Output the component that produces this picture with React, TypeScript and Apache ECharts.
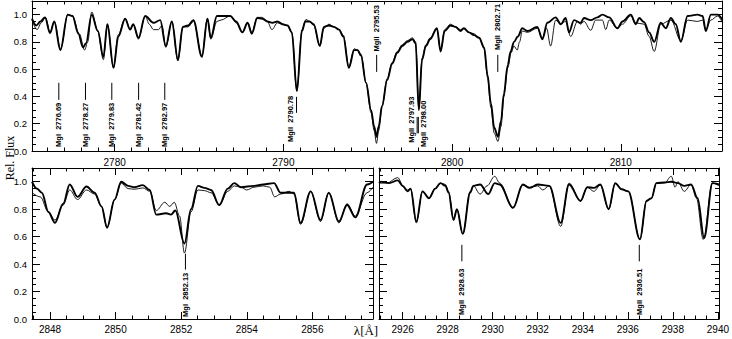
import React, { useEffect, useRef } from "react";
import * as echarts from "echarts";

// ---------- Top panel (2775 - 2816 Å) ----------
const TOP_THICK_WAVE = [2775.1, 2775.35, 2775.6, 2775.87, 2776.17, 2776.42, 2776.78, 2777.22, 2777.5, 2777.85, 2778.12, 2778.3, 2778.64, 2779.0, 2779.33, 2779.57, 2779.93, 2780.22, 2780.62, 2780.92, 2781.1, 2781.41, 2781.81, 2782.3, 2782.7, 2783.03, 2783.39, 2783.75, 2784.04, 2784.35, 2784.67, 2785.17, 2785.5, 2785.7, 2786.06, 2786.85, 2787.2, 2787.57, 2787.88, 2788.13, 2788.45, 2788.75, 2789.05, 2789.35, 2789.65, 2789.95, 2790.25, 2790.5, 2790.8, 2791.1, 2791.3, 2791.55, 2791.8, 2792.16, 2792.4, 2792.7, 2793.0, 2793.3, 2793.55, 2793.88, 2794.2, 2794.4, 2794.6, 2794.9, 2795.2, 2795.38, 2795.52, 2795.65, 2795.85, 2796.15, 2796.45, 2796.75, 2797.05, 2797.35, 2797.65, 2797.84, 2798.03, 2798.22, 2798.45, 2798.7, 2799.1, 2799.32, 2799.56, 2799.91, 2800.2, 2800.5, 2800.7, 2801.0, 2801.3, 2801.6, 2801.9, 2802.1, 2802.3, 2802.5, 2802.72, 2802.9, 2803.07, 2803.3, 2803.47, 2803.67, 2803.9, 2804.16, 2804.46, 2805.05, 2805.35, 2805.65, 2806.14, 2806.44, 2806.73, 2806.93, 2807.23, 2807.62, 2807.82, 2808.22, 2808.61, 2808.91, 2809.31, 2809.8, 2810.1, 2810.59, 2810.89, 2811.09, 2811.38, 2811.68, 2811.98, 2812.37, 2812.67, 2812.97, 2813.26, 2813.56, 2813.96, 2814.55, 2814.85, 2815.04, 2815.34, 2815.74, 2816.03];
const TOP_THICK_FLUX = [0.97, 0.92, 0.95, 0.98, 0.865, 0.95, 0.74, 1.0, 0.99, 0.86, 0.76, 0.79, 1.0, 0.88, 0.69, 0.93, 0.61, 0.84, 0.97, 0.89, 0.93, 0.83, 0.99, 0.94, 0.96, 0.77, 0.95, 0.67, 0.91, 0.92, 0.96, 0.69, 0.97, 0.83, 0.99, 0.99, 0.95, 0.87, 0.94, 0.86, 0.975, 0.97, 0.95, 0.94, 0.95, 0.93, 0.92, 0.87, 0.44, 0.88, 0.95, 0.95, 0.93, 0.77, 0.91, 0.92, 0.91, 0.89, 0.84, 0.61, 0.74, 0.74, 0.7, 0.5, 0.3, 0.18, 0.105, 0.18, 0.33, 0.52, 0.64, 0.72, 0.77, 0.8, 0.82, 0.79, 0.3, 0.67, 0.77, 0.82, 0.9, 0.73, 0.88, 0.92, 0.91, 0.88, 0.9, 0.87, 0.85, 0.83, 0.76, 0.56, 0.35, 0.17, 0.105, 0.22, 0.42, 0.63, 0.73, 0.8, 0.84, 0.9, 0.88, 0.91, 0.82, 0.94, 0.98, 0.93, 0.975, 0.87, 0.96, 0.94, 0.975, 0.96, 0.98, 1.0, 0.98, 0.9, 0.95, 1.0, 0.93, 0.975, 0.945, 0.87, 0.8, 0.94, 0.9, 0.975, 0.93, 0.8, 0.99, 1.0, 0.99, 0.88, 1.0, 1.0, 0.96];
const TOP_THIN_WAVE = [2775.1, 2775.4, 2775.65, 2775.9, 2776.17, 2776.42, 2776.8, 2777.22, 2777.5, 2777.9, 2778.22, 2778.4, 2778.64, 2779.0, 2779.33, 2779.57, 2779.93, 2780.2, 2780.62, 2780.92, 2781.1, 2781.41, 2781.81, 2782.05, 2782.3, 2782.6, 2782.8, 2783.03, 2783.39, 2783.75, 2784.04, 2784.35, 2784.67, 2785.17, 2785.5, 2785.7, 2786.06, 2786.3, 2786.85, 2787.2, 2787.57, 2787.88, 2788.13, 2788.45, 2788.75, 2789.05, 2789.32, 2789.65, 2789.95, 2790.25, 2790.5, 2790.8, 2791.1, 2791.35, 2791.55, 2791.8, 2792.16, 2792.4, 2792.7, 2793.0, 2793.3, 2793.55, 2793.88, 2794.2, 2794.4, 2794.6, 2794.9, 2795.2, 2795.38, 2795.52, 2795.65, 2795.85, 2796.15, 2796.45, 2796.75, 2797.05, 2797.35, 2797.65, 2797.84, 2798.03, 2798.22, 2798.45, 2798.7, 2799.1, 2799.32, 2799.56, 2799.91, 2800.2, 2800.5, 2800.7, 2801.0, 2801.3, 2801.6, 2801.9, 2802.1, 2802.3, 2802.5, 2802.72, 2802.9, 2803.07, 2803.3, 2803.5, 2803.67, 2803.86, 2804.0, 2804.16, 2804.46, 2805.05, 2805.35, 2805.6, 2805.84, 2806.14, 2806.44, 2806.73, 2807.03, 2807.43, 2807.62, 2807.82, 2808.22, 2808.51, 2808.91, 2809.11, 2809.31, 2809.8, 2810.1, 2810.59, 2810.89, 2811.38, 2811.68, 2811.98, 2812.37, 2812.97, 2813.56, 2813.96, 2814.55, 2814.85, 2815.04, 2815.34, 2815.74, 2816.03];
const TOP_THIN_FLUX = [0.96, 0.89, 0.94, 0.98, 0.87, 0.95, 0.75, 1.0, 0.99, 0.86, 0.74, 0.8, 1.02, 0.88, 0.67, 0.93, 0.61, 0.85, 0.97, 0.89, 0.93, 0.82, 0.99, 0.93, 0.89, 0.89, 0.92, 0.76, 0.95, 0.66, 0.91, 0.91, 0.95, 0.7, 0.97, 0.82, 0.95, 0.96, 0.99, 0.94, 0.87, 0.94, 0.87, 0.98, 0.98, 0.95, 0.89, 0.94, 0.93, 0.92, 0.87, 0.44, 0.89, 0.965, 0.95, 0.92, 0.77, 0.9, 0.93, 0.91, 0.89, 0.85, 0.62, 0.75, 0.74, 0.71, 0.5, 0.28, 0.15, 0.056, 0.15, 0.33, 0.53, 0.65, 0.73, 0.78, 0.81, 0.83, 0.8, 0.31, 0.68, 0.78, 0.83, 0.9, 0.74, 0.89, 0.93, 0.91, 0.89, 0.9, 0.87, 0.86, 0.83, 0.75, 0.54, 0.32, 0.13, 0.07, 0.18, 0.4, 0.61, 0.72, 0.77, 0.74, 0.8, 0.88, 0.87, 0.9, 0.83, 0.9, 0.77, 0.96, 0.93, 0.95, 0.84, 0.95, 0.93, 0.95, 0.885, 0.96, 0.96, 0.89, 0.96, 0.9, 0.93, 0.99, 0.94, 0.93, 0.84, 0.73, 0.93, 0.96, 0.81, 0.96, 0.95, 0.96, 0.89, 0.96, 0.99, 0.94];

// ---------- Bottom-left panel (2847.5 - 2857.8 Å) ----------
const BL_THICK_WAVE = [2847.45, 2847.6, 2847.75, 2847.95, 2848.15, 2848.4, 2848.6, 2848.84, 2849.11, 2849.36, 2849.57, 2849.74, 2849.97, 2850.17, 2850.38, 2850.58, 2850.83, 2851.04, 2851.24, 2851.54, 2851.69, 2851.82, 2852.1, 2852.3, 2852.51, 2852.71, 2852.91, 2853.16, 2853.42, 2853.62, 2853.82, 2854.22, 2854.5, 2854.83, 2855.03, 2855.29, 2855.44, 2855.64, 2855.95, 2856.25, 2856.5, 2856.81, 2857.06, 2857.31, 2857.67, 2857.85];
const BL_THICK_FLUX = [1.0, 0.95, 0.92, 0.78, 0.7, 0.84, 0.98, 0.89, 0.965, 0.92, 0.82, 0.665, 0.87, 1.0, 0.97, 0.96, 0.975, 0.94, 0.76, 0.77, 0.76, 0.79, 0.55, 0.8, 0.97, 0.955, 0.94, 0.83, 0.95, 0.99, 0.96, 0.97, 0.98, 0.99, 0.92, 0.92, 0.92, 0.7, 0.93, 0.72, 0.92, 0.71, 0.83, 0.74, 0.98, 1.0];
const BL_THIN_WAVE = [2847.45, 2847.7, 2847.95, 2848.15, 2848.4, 2848.6, 2848.84, 2849.11, 2849.36, 2849.57, 2849.74, 2849.97, 2850.17, 2850.38, 2850.58, 2850.83, 2851.04, 2851.24, 2851.5, 2851.65, 2851.79, 2851.95, 2852.1, 2852.3, 2852.51, 2852.71, 2852.91, 2853.16, 2853.42, 2853.62, 2853.82, 2854.0, 2854.22, 2854.5, 2854.7, 2854.85, 2855.03, 2855.29, 2855.44, 2855.64, 2855.95, 2856.25, 2856.5, 2856.81, 2857.06, 2857.31, 2857.67, 2857.85];
const BL_THIN_FLUX = [0.92, 0.89, 0.78, 0.72, 0.83, 0.94, 0.87, 0.94, 0.91, 0.82, 0.67, 0.87, 0.99, 0.95, 0.945, 0.955, 0.93, 0.79, 0.85, 0.82, 0.85, 0.75, 0.48, 0.78, 0.94, 0.935, 0.92, 0.83, 0.93, 0.97, 0.96, 0.94, 0.96, 0.97, 0.96, 0.89, 0.91, 0.93, 0.91, 0.69, 0.93, 0.71, 0.92, 0.7, 0.84, 0.75, 0.92, 0.96];

// ---------- Bottom-right panel (2925 - 2940 Å) ----------
const BR_THICK_WAVE = [2924.95, 2925.04, 2925.4, 2925.78, 2926.0, 2926.22, 2926.35, 2926.61, 2926.88, 2927.17, 2927.45, 2927.68, 2927.9, 2928.04, 2928.26, 2928.41, 2928.67, 2929.0, 2929.14, 2929.44, 2929.8, 2930.09, 2930.31, 2930.9, 2931.34, 2931.63, 2932.0, 2932.51, 2933.02, 2933.39, 2933.9, 2934.2, 2934.49, 2934.78, 2935.15, 2935.44, 2935.73, 2936.02, 2936.54, 2936.83, 2937.05, 2937.27, 2937.63, 2937.93, 2938.22, 2938.51, 2938.81, 2939.1, 2939.39, 2939.76, 2940.05];
const BR_THICK_FLUX = [0.99, 1.0, 0.99, 1.01, 0.97, 0.93, 0.95, 0.71, 0.93, 0.88, 0.95, 0.99, 0.97, 0.92, 0.72, 0.8, 0.62, 0.92, 0.97, 0.98, 0.91, 0.99, 0.98, 0.81, 0.98, 0.955, 0.98, 0.97, 0.7, 0.98, 0.86, 0.96, 0.955, 0.98, 0.8, 0.99, 0.945, 0.93, 0.58, 0.86, 0.88, 0.99, 0.995, 1.0, 0.99, 0.97, 0.98, 0.88, 0.59, 0.99, 0.98];
const BR_THIN_WAVE = [2924.95, 2925.3, 2925.78, 2926.05, 2926.22, 2926.35, 2926.61, 2926.88, 2927.17, 2927.45, 2927.68, 2927.9, 2928.04, 2928.26, 2928.41, 2928.67, 2929.0, 2929.14, 2929.44, 2929.75, 2930.09, 2930.31, 2930.9, 2931.34, 2931.63, 2932.0, 2932.22, 2932.51, 2933.02, 2933.39, 2933.9, 2934.2, 2934.49, 2934.78, 2935.15, 2935.44, 2935.73, 2936.02, 2936.54, 2936.83, 2937.05, 2937.27, 2937.63, 2937.93, 2938.1, 2938.22, 2938.51, 2938.81, 2939.05, 2939.35, 2939.76, 2940.05];
const BR_THIN_FLUX = [0.99, 0.99, 1.03, 0.96, 0.94, 0.95, 0.7, 0.93, 0.88, 0.95, 0.99, 0.98, 0.93, 0.73, 0.8, 0.62, 0.93, 0.97, 0.91, 0.97, 1.04, 0.99, 0.81, 0.98, 0.96, 0.97, 0.94, 0.97, 0.675, 0.99, 0.86, 0.96, 0.93, 0.975, 0.8, 0.985, 0.945, 0.93, 0.58, 0.86, 0.88, 0.99, 0.99, 1.04, 0.96, 1.0, 0.93, 0.98, 0.88, 0.58, 0.99, 0.97];

// ---------- Tick labels ----------
const TOP_TICKS = [2780, 2790, 2800, 2810];
const BL_TICKS = [2848, 2850, 2852, 2854, 2856];
const BR_TICKS = [2926, 2928, 2930, 2932, 2934, 2936, 2938, 2940];
const FLUX_TICKS = [0, 0.2, 0.4, 0.6, 0.8, 1.0];

// ---------- Line identifications ----------
const TOP_LINE_WAVE = [2776.69, 2778.27, 2779.83, 2781.42, 2782.97, 2790.78, 2795.53, 2797.93, 2798.0, 2802.71];
const TOP_LINE_NAME = ["MgI  2776.69", "MgI  2778.27", "MgI  2779.83", "MgI  2781.42", "MgI  2782.97", "MgII  2790.78", "MgII  2795.53", "MgII  2797.93", "MgII  2798.00", "MgII  2802.71"];
const BL_LINE_WAVE = [2852.13];
const BL_LINE_NAME = ["MgI  2852.13"];
const BR_LINE_WAVE = [2928.63, 2936.51];
const BR_LINE_NAME = ["MgII  2928.63", "MgII  2936.51"];

// marker placement (flux units): bar top, bar bottom, text start, text x-shift (px)
const TOP_MARK_BAR_TOP = [0.5, 0.5, 0.5, 0.5, 0.5, 0.397, 0.705, 0.25, 0.25, 0.705];
const TOP_MARK_BAR_BOT = [0.375, 0.375, 0.375, 0.375, 0.375, 0.28, 0.58, 0.13, 0.13, 0.58];
const TOP_MARK_TEXT = [0.03, 0.03, 0.03, 0.03, 0.03, 0.066, 0.73, 0.06, 0.03, 0.74];
const TOP_MARK_DX = [0, 0, 0, 0, 0, -6.5, 0, -6, 5, 0];

const FONT = "'Liberation Sans', Arial, Helvetica, sans-serif";
const SERIF = "'Liberation Serif', 'Times New Roman', serif";
const W = 732;
const H = 339;

function zip(a: number[], b: number[]) {
  return a.map((v, i) => [v, b[i]]);
}

function minorValues(min: number, max: number, step: number, majorStep: number) {
  const out: number[] = [];
  const start = Math.ceil(min / step - 1e-9);
  const end = Math.floor(max / step + 1e-9);
  for (let k = start; k <= end; k++) {
    const v = +(k * step).toFixed(4);
    const r = Math.abs(v / majorStep - Math.round(v / majorStep));
    if (r > 1e-6) out.push(v);
  }
  return out;
}

const tickLine = { color: "#000", width: 1 };

function makeX(gi: number, min: number, max: number, majors: number[], minors: number[], margin: number) {
  const base = { type: "value", gridIndex: gi, min, max, splitLine: { show: false } };
  const line = { show: true, onZero: false, lineStyle: { color: "#000", width: 1 } };
  const noLine = { show: false, onZero: false };
  return [
    { ...base, position: "bottom", axisLine: line,
      axisTick: { show: true, inside: true, length: 7, customValues: majors, lineStyle: tickLine },
      axisLabel: { show: true, customValues: majors, margin, color: "#000", fontSize: 10, fontFamily: FONT, formatter: (v: number) => String(v) } },
    { ...base, position: "bottom", axisLine: noLine,
      axisTick: { show: true, inside: true, length: 3.5, customValues: minors, lineStyle: tickLine },
      axisLabel: { show: false, customValues: minors } },
    { ...base, position: "top", axisLine: line,
      axisTick: { show: true, inside: true, length: 7, customValues: majors, lineStyle: tickLine },
      axisLabel: { show: false, customValues: majors } },
    { ...base, position: "top", axisLine: noLine,
      axisTick: { show: true, inside: true, length: 3.5, customValues: minors, lineStyle: tickLine },
      axisLabel: { show: false, customValues: minors } },
  ];
}

function makeY(gi: number, showLabels: boolean) {
  const majors = FLUX_TICKS;
  const minors = minorValues(0, 1.1, 0.05, 0.2);
  const base = { type: "value", gridIndex: gi, min: 0, max: 1.1, splitLine: { show: false } };
  const line = { show: true, onZero: false, lineStyle: { color: "#000", width: 1 } };
  const noLine = { show: false, onZero: false };
  return [
    { ...base, position: "left", axisLine: line,
      axisTick: { show: true, inside: true, length: 8, customValues: majors, lineStyle: tickLine },
      axisLabel: { show: showLabels, customValues: majors, margin: 5, color: "#000", fontSize: 9.5, fontFamily: FONT, formatter: (v: number) => v.toFixed(1) } },
    { ...base, position: "left", axisLine: noLine,
      axisTick: { show: true, inside: true, length: 4, customValues: minors, lineStyle: tickLine },
      axisLabel: { show: false, customValues: minors } },
    { ...base, position: "right", axisLine: line,
      axisTick: { show: true, inside: true, length: 8, customValues: majors, lineStyle: tickLine },
      axisLabel: { show: false, customValues: majors } },
    { ...base, position: "right", axisLine: noLine,
      axisTick: { show: true, inside: true, length: 4, customValues: minors, lineStyle: tickLine },
      axisLabel: { show: false, customValues: minors } },
  ];
}

function spectrum(gi: number, wave: number[], flux: number[], width: number, z: number) {
  return {
    type: "line",
    xAxisIndex: gi * 4,
    yAxisIndex: gi * 4,
    data: zip(wave, flux),
    showSymbol: false,
    symbol: "none",
    smooth: 0.35,
    smoothMonotone: "x",
    color: "#000",
    lineStyle: { color: "#000", width },
    z,
    silent: true,
  };
}

function markers(gi: number, waves: number[], names: string[], barTop: number[], barBot: number[], textAt: number[], dx: number[]) {
  return {
    type: "custom",
    xAxisIndex: gi * 4,
    yAxisIndex: gi * 4,
    silent: true,
    clip: false,
    z: 10,
    color: "#000",
    itemStyle: { color: "#000" },
    encode: { x: 0, y: 1 },
    data: waves.map((w, i) => [w, barTop[i], barBot[i], textAt[i], dx[i]]),
    renderItem: (params: any, api: any) => {
      const w = api.value(0);
      const p1 = api.coord([w, api.value(1)]);
      const p2 = api.coord([w, api.value(2)]);
      const pt = api.coord([w, api.value(3)]);
      const shift = api.value(4);
      return {
        type: "group",
        children: [
          { type: "line", shape: { x1: p1[0], y1: p1[1], x2: p2[0], y2: p2[1] }, style: { stroke: "#000", lineWidth: 1 } },
          { type: "text", x: pt[0] + shift, y: pt[1], rotation: Math.PI / 2,
            style: { text: names[params.dataIndex], fontSize: 7.5, fontWeight: "bold", fontFamily: FONT, fill: "#000", align: "left", verticalAlign: "middle" } },
        ],
      };
    },
  };
}

function buildOption() {
  const topMin = 2775.1, topMax = 2816.0;
  const blMin = 2847.45, blMax = 2857.85;
  const brMin = 2924.95, brMax = 2940.05;
  const n = BL_LINE_WAVE.length;
  const m = BR_LINE_WAVE.length;
  return {
    animation: false,
    backgroundColor: "#fff",
    color: ["#000"],
    grid: [
      { left: 32, top: 1, width: 690, height: 150, containLabel: false },
      { left: 32, top: 168, width: 341, height: 151, containLabel: false },
      { left: 379, top: 168, width: 343, height: 151, containLabel: false },
    ],
    xAxis: [
      ...makeX(0, topMin, topMax, TOP_TICKS, minorValues(topMin, topMax, 1, 10), 6),
      ...makeX(1, blMin, blMax, BL_TICKS, minorValues(blMin, blMax, 0.5, 2), 5),
      ...makeX(2, brMin, brMax, BR_TICKS, minorValues(brMin, brMax, 0.5, 2), 5),
    ],
    yAxis: [...makeY(0, true), ...makeY(1, true), ...makeY(2, false)],
    series: [
      spectrum(0, TOP_THIN_WAVE, TOP_THIN_FLUX, 0.9, 2),
      spectrum(0, TOP_THICK_WAVE, TOP_THICK_FLUX, 1.9, 3),
      spectrum(1, BL_THIN_WAVE, BL_THIN_FLUX, 0.9, 2),
      spectrum(1, BL_THICK_WAVE, BL_THICK_FLUX, 1.9, 3),
      spectrum(2, BR_THIN_WAVE, BR_THIN_FLUX, 0.9, 2),
      spectrum(2, BR_THICK_WAVE, BR_THICK_FLUX, 1.9, 3),
      markers(0, TOP_LINE_WAVE, TOP_LINE_NAME, TOP_MARK_BAR_TOP, TOP_MARK_BAR_BOT, TOP_MARK_TEXT, TOP_MARK_DX),
      markers(1, BL_LINE_WAVE, BL_LINE_NAME, new Array(n).fill(0.475), new Array(n).fill(0.36), new Array(n).fill(0.015), new Array(n).fill(0)),
      markers(2, BR_LINE_WAVE, BR_LINE_NAME, new Array(m).fill(0.54), new Array(m).fill(0.42), new Array(m).fill(0.03), new Array(m).fill(0)),
    ],
    graphic: [
      { type: "text", x: 10, y: 158, rotation: Math.PI / 2, silent: true,
        style: { text: "Rel. Flux", fontSize: 12, fontFamily: SERIF, fill: "#000", align: "center", verticalAlign: "middle" } },
      { type: "text", x: 366, y: 330, silent: true,
        style: { text: "λ[Å]", fontSize: 13, fontFamily: SERIF, fill: "#000", align: "center", verticalAlign: "middle" } },
    ],
  };
}

export default function App() {
  const ref = useRef<HTMLDivElement>(null);
  useEffect(() => {
    document.body.style.margin = "0";
    const chart = echarts.init(ref.current as HTMLDivElement, null, { renderer: "svg", width: W, height: H });
    chart.setOption(buildOption() as any);
    return () => chart.dispose();
  }, []);
  return <div ref={ref} style={{ position: "absolute", left: 0, top: 0, width: W, height: H }} />;
}
